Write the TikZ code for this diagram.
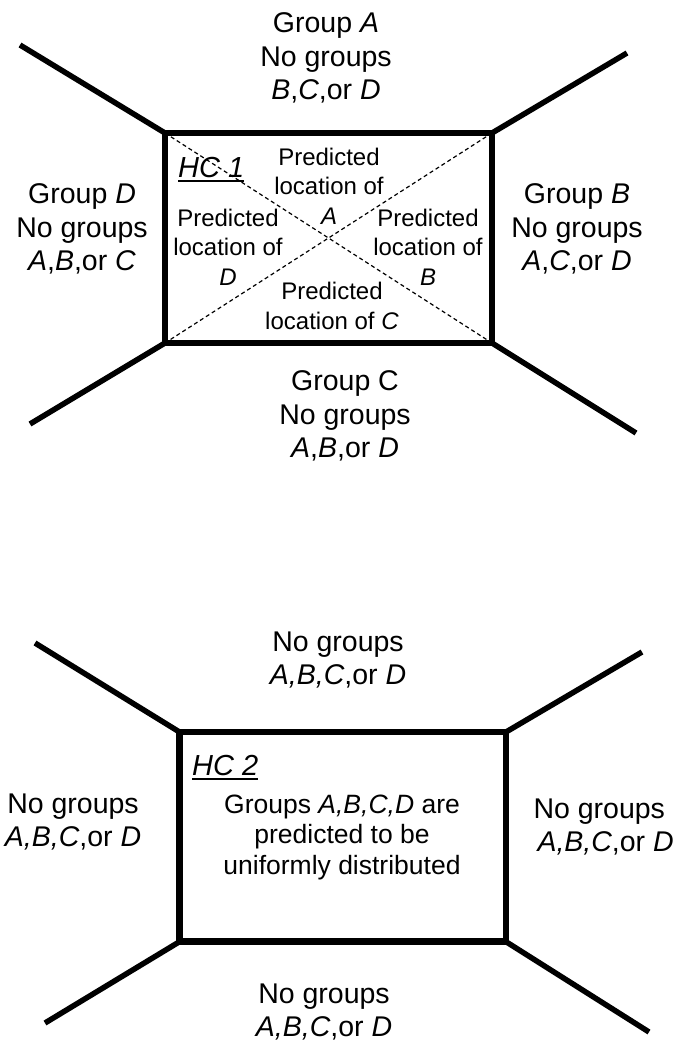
\documentclass[tikz,border=0pt]{standalone}
\usepackage{fontspec}
\setmainfont{Liberation Sans}
\usetikzlibrary{calc}

\tikzset{
  wall/.style={line width=5.5pt},
  frame/.style={line width=6.5pt,line join=miter},
  diag/.style={line width=1.2pt,dash pattern=on 4pt off 3pt},
  outer/.style={align=center,font=\fontsize{28.5}{33.5}\selectfont},
  inner/.style={align=center,font=\fontsize{24}{29.5}\selectfont},
  innerbig/.style={align=center,font=\fontsize{26.5}{30.5}\selectfont},
  hclabel/.style={anchor=base west,inner sep=0pt,font=\fontsize{29}{32}\selectfont\itshape},
  uline/.style={line width=2pt}
}

\begin{document}
\begin{tikzpicture}[x=1pt,y=-1pt]
  \useasboundingbox (0,0) rectangle (683,1046);

  % HC 1 arena
  \path
  (165,133) coordinate (a1)
  (492,133) coordinate (b1)
  (492,343) coordinate (c1)
  (165,343) coordinate (d1)
  (20,45) coordinate (a1o)
  (627,53) coordinate (b1o)
  (636,433) coordinate (c1o)
  (30,424) coordinate (d1o);
  \draw[diag] (a1) -- (c1);
  \draw[diag] (b1) -- (d1);
  \draw[frame] (a1) -- (b1) -- (c1) -- (d1) -- cycle;
  \draw[wall] (a1) -- (a1o);
  \draw[wall] (b1) -- (b1o);
  \draw[wall] (c1) -- (c1o);
  \draw[wall] (d1) -- (d1o);

  % HC 1 arm labels
  \node[outer] (armA) at (326,58) {Group \textit{A}\\No groups\\\textit{B},\textit{C},or \textit{D}};
  \node[outer] (armD) at (82,229) {Group \textit{D}\\No groups\\\textit{A},\textit{B},or \textit{C}};
  \node[outer] (armB) at (577,229) {Group \textit{B}\\No groups\\\textit{A},\textit{C},or \textit{D}};
  \node[outer] (armC) at (345,416) {Group C\\No groups\\\textit{A},\textit{B},or \textit{D}};

  % HC 1 centre labels
  \node[hclabel] (hc1) at (178,177) {HC 1};
  \draw[uline] ($(hc1.base west)+(0,4)$) -- ($(hc1.base east)+(0,4)$);
  \node[inner] (locA) at (329,186) {Predicted\\location of\\\textit{A}};
  \node[inner] (locD) at (228,247) {Predicted\\location of\\\textit{D}};
  \node[inner] (locB) at (428,247) {Predicted\\location of\\\textit{B}};
  \node[inner] (locC) at (332,306) {Predicted\\location of \textit{C}};

  % HC 2 arena
  \path
  (179.5,732) coordinate (a2)
  (506,732) coordinate (b2)
  (506,941.7) coordinate (c2)
  (179.5,941.7) coordinate (d2)
  (35,643) coordinate (a2o)
  (642,652) coordinate (b2o)
  (649,1032) coordinate (c2o)
  (45,1023) coordinate (d2o);
  \draw[frame] (a2) -- (b2) -- (c2) -- (d2) -- cycle;
  \draw[wall] (a2) -- (a2o);
  \draw[wall] (b2) -- (b2o);
  \draw[wall] (c2) -- (c2o);
  \draw[wall] (d2) -- (d2o);

  % HC 2 arm labels
  \node[outer] (armtop) at (338,660) {No groups\\\textit{A,B,C},or \textit{D}};
  \node[outer] (armleft) at (73,822) {No groups\\\textit{A,B,C},or \textit{D}};
  \node[outer,align=left,anchor=west] (armright) at (530,827) {No groups\\\hspace{4pt}\textit{A,B,C},or \textit{D}};
  \node[outer] (armbot) at (324,1012) {No groups\\\textit{A,B,C},or \textit{D}};

  % HC 2 centre labels
  \node[hclabel] (hc2) at (192,775) {HC 2};
  \draw[uline] ($(hc2.base west)+(0,4)$) -- ($(hc2.base east)+(0,4)$);
  \node[innerbig] (uniform) at (342,837) {Groups \textit{A,B,C,D} are\\predicted to be\\uniformly distributed};
\end{tikzpicture}
\end{document}
